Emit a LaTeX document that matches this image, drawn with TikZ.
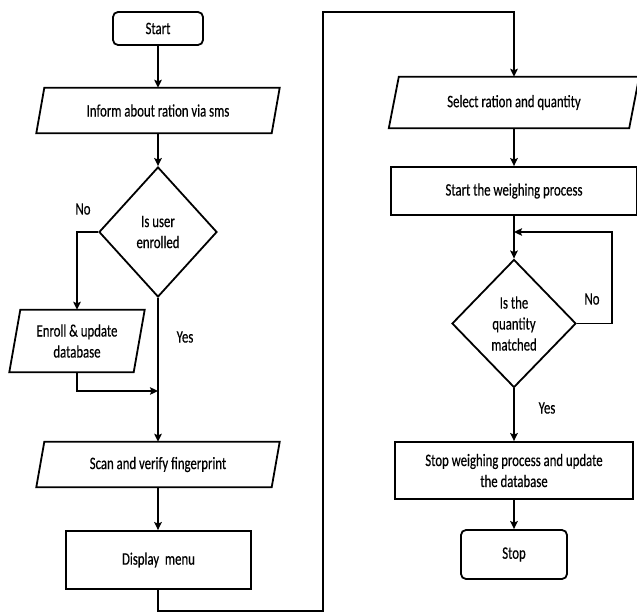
\documentclass[tikz,border=0pt]{standalone}
\usepackage{fontspec}
\setmainfont[FakeStretch=0.73,FakeBold=0.4]{Carlito}
\usetikzlibrary{shapes.geometric,arrows.meta}
\newcommand\drawpara[2]{\draw[line] ([xshift=#2]#1.north west) -- ([xshift=#2]#1.north east) -- ([xshift=-#2]#1.south east) -- ([xshift=-#2]#1.south west) -- cycle;}
\tikzset{
 line/.style={line width=1.8pt, draw=black},
 arr/.style={line, -{Stealth[length=8pt,width=7.5pt,inset=1.5pt]}},
 txt/.style={font=\fontsize{17.5}{21}\selectfont, text=black, align=center},
 boxnode/.style={txt, draw=black, line width=1.8pt, rectangle, inner sep=0pt},
 term/.style={boxnode, rounded corners=5pt},
 paranode/.style={txt, rectangle, inner sep=0pt},
 dec/.style={txt, draw=black, line width=1.8pt, diamond, inner sep=0pt},
}
\begin{document}
\begin{tikzpicture}[x=1pt,y=-1pt]
\useasboundingbox (0,0) rectangle (637,615);
% left column
\node[term, minimum width=90pt, minimum height=33pt] (start) at (158,28.5) {Start};
\node[paranode, minimum width=235pt, minimum height=45pt] (inform) at (158,110.5) {Inform about ration via sms};
\drawpara{inform}{4pt}
\node[dec, minimum width=118pt, minimum height=130pt] (d1) at (158,232) {Is user\\enrolled};
\node[paranode, minimum width=124pt, minimum height=62pt] (enroll) at (77,341) {Enroll \& update\\database};
\drawpara{enroll}{5.5pt}
\node[paranode, minimum width=235pt, minimum height=45pt] (scan) at (158,464.5) {Scan and verify fingerprint};
\drawpara{scan}{4pt}
\node[boxnode, minimum width=185pt, minimum height=58pt] (disp) at (158.5,560) {Display\ \ menu};
% right column
\node[paranode, minimum width=240pt, minimum height=51pt] (select) at (514,102.5) {Select ration and quantity};
\drawpara{select}{5pt}
\node[boxnode, minimum width=246pt, minimum height=48pt] (weigh) at (514,191) {Start the weighing process};
\node[dec, minimum width=124pt, minimum height=128pt] (d2) at (514,323.5) {Is the\\quantity\\matched};
\node[boxnode, minimum width=238pt, minimum height=57pt] (stopw) at (514,470.5) {Stop weighing process and update\\the database};
\node[term, minimum width=106pt, minimum height=49pt] (stop) at (514,554.5) {Stop};
% labels
\node[txt] (no1) at (83,209) {No};
\node[txt] (yes1) at (185,337) {Yes};
\node[txt] (no2) at (592,299) {No};
\node[txt] (yes2) at (547,408) {Yes};
% coordinates
\coordinate (join) at (158,391);
\coordinate (b1) at (158,611);
\coordinate (b2) at (323,611);
\coordinate (b3) at (323,12);
\coordinate (b4) at (514,12);
\coordinate (loopin) at (514,232);
\coordinate (loopr) at (612,323.5);
% connectors
\draw[arr] (start) -- (inform);
\draw[arr] (inform.south) -- (d1.north);
\draw[arr] (d1.west) -| (enroll.north);
\draw[arr] (enroll.south) |- (join);
\draw[arr] (d1.south) -- (scan.north);
\draw[arr] (scan.south) -- (disp.north -| scan.south);
\draw[arr] (disp.south -| b1) -- (b1) -- (b2) -- (b3) -- (b4) -- (select.north);
\draw[arr] (select.south) -- (weigh.north);
\draw[arr] (weigh.south) -- (d2.north);
\draw[arr] (d2.east) -- (loopr) |- (loopin);
\draw[arr] (d2.south) -- (stopw.north);
\draw[arr] (stopw.south) -- (stop.north);
\end{tikzpicture}
\end{document}
